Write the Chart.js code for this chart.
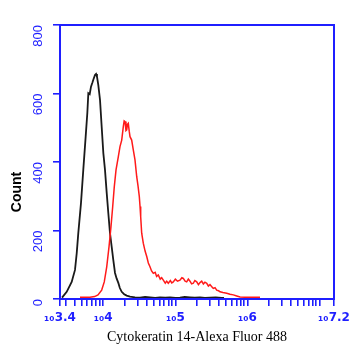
<!DOCTYPE html>
<html>
<head>
<meta charset="utf-8">
<script src="https://cdn.jsdelivr.net/npm/chart.js@4"></script>
<style>
html,body{margin:0;padding:0;background:#fff;}
#wrap{width:349px;height:347px;position:relative;}
</style>
</head>
<body>
<div id="wrap"><canvas id="c"></canvas></div>
<script>
// Fluorescence axis position in decades (log10 of intensity)
const controlDecades = [3.428,3.493,3.562,3.608,3.632,3.654,3.691,3.723,3.756,3.779,3.793,3.812,3.830,3.850,3.862,3.885,3.900,3.913,3.931,3.955,3.978,4.001,4.024,4.048,4.070,4.093,4.117,4.139,4.163,4.185,4.209,4.230,4.256,4.290,4.325,4.371,4.440,4.510,4.580,4.648,4.720,4.787,4.860,4.926,5.000,5.064,5.130,5.203,5.270,5.342,5.410,5.480,5.560,5.640,5.675];
const controlCounts  = [4,21,50,85,134,193,280,377,474,543,601,598,620,632,640,654,657,649,625,581,503,426,377,309,251,193,152,114,76,60,47,32,21,14,10,7,5,4,6,5,3,5,4,5,3,4,6,5,4,5,3,4,5,3,3];

const stainedDecades = [3.677,3.750,3.816,3.880,3.927,3.978,4.014,4.048,4.080,4.107,4.131,4.153,4.177,4.209,4.232,4.256,4.278,4.290,4.302,4.315,4.325,4.336,4.347,4.360,4.371,4.394,4.417,4.440,4.464,4.482,4.500,4.510,4.519,4.533,4.555,4.580,4.603,4.625,4.648,4.670,4.694,4.720,4.740,4.763,4.790,4.810,4.833,4.860,4.880,4.902,4.930,4.950,4.971,5.000,5.030,5.064,5.090,5.110,5.135,5.157,5.180,5.203,5.225,5.249,5.270,5.296,5.320,5.342,5.365,5.388,5.410,5.435,5.458,5.480,5.505,5.526,5.550,5.573,5.600,5.619,5.660,5.712,5.758,5.804,5.851,5.897,5.960,6.035,6.100,6.174];
const stainedCounts  = [5,5,5,7,12,26,50,94,153,211,270,328,377,416,445,464,503,520,518,492,494,510,513,490,474,464,435,406,357,330,299,270,240,192,163,140,124,105,94,82,75,78,66,70,58,62,55,46,52,46,54,47,50,58,52,55,62,60,52,50,58,52,44,46,54,50,42,48,52,44,49,46,38,42,36,31,33,26,24,21,19,17,14,12,9,6,5,5,5,5];

// Axis ticks (intensity values) and labels
const xMinDecade = 3.4, xMaxDecade = 7.2;
const xMajorLabels = {3.4:'\u2081\u20803.4', 4:'\u2081\u20804', 5:'\u2081\u20805', 6:'\u2081\u20806', 7.2:'\u2081\u20807.2'};
const yTicks = [0,200,400,600,800];

const BLUE = '#1f1fff';

const xTickValues = [];
xTickValues.push({value: Math.pow(10, xMinDecade), dec: xMinDecade});
for (let d = 3; d <= 7; d++) {
  for (let k = 1; k <= 9; k++) {
    const v = k * Math.pow(10, d);
    const lv = Math.log10(v);
    if (lv > xMinDecade + 1e-6 && lv < xMaxDecade - 1e-6) xTickValues.push({value: v, dec: (k === 1 ? d : null)});
  }
}
xTickValues.push({value: Math.pow(10, xMaxDecade), dec: xMaxDecade});

const toPts = (decs, counts) => decs.map((d, i) => ({x: Math.pow(10, d), y: counts[i]}));

const framePlugin = {
  id: 'frame',
  afterDraw(chart) {
    const {ctx, chartArea: a} = chart;
    ctx.save();
    ctx.strokeStyle = BLUE;
    ctx.lineWidth = 2;
    ctx.strokeRect(a.left, a.top, a.right - a.left, a.bottom - a.top);
    // y axis title
    ctx.fillStyle = '#000';
    ctx.font = 'bold 14px "Liberation Sans", Arial, sans-serif';
    ctx.textAlign = 'center';
    ctx.textBaseline = 'middle';
    ctx.translate(17, 192);
    ctx.rotate(-Math.PI / 2);
    ctx.fillText('Count', 0, 0);
    ctx.restore();
  }
};

new Chart(document.getElementById('c'), {
  type: 'line',
  data: {
    datasets: [
      {data: toPts(stainedDecades, stainedCounts), borderColor: '#ff1a1a', borderWidth: 1.5, pointRadius: 0, tension: 0, fill: false},
      {data: toPts(controlDecades, controlCounts), borderColor: '#1a1a1a', borderWidth: 1.8, pointRadius: 0, tension: 0, fill: false}
    ]
  },
  options: {
    responsive: true,
    maintainAspectRatio: false,
    animation: false,
    events: [],
    layout: {padding: {top: 25, right: 15, left: 0, bottom: 0}},
    plugins: {legend: {display: false}, tooltip: {enabled: false}},
    scales: {
      x: {
        type: 'logarithmic',
        min: Math.pow(10, xMinDecade),
        max: Math.pow(10, xMaxDecade),
        afterBuildTicks(scale) { scale.ticks = xTickValues.map(t => ({value: t.value})); },
        afterFit(scale) { scale.height = 48; scale.paddingLeft = 0; scale.paddingRight = 0; },
        ticks: {
          autoSkip: false, maxRotation: 0, minRotation: 0, padding: 5,
          color: BLUE,
          font: {family: '"DejaVu Sans", sans-serif', size: 12, weight: 'bold'},
          callback(value, index) {
            const t = xTickValues[index];
            return (t && t.dec !== null && xMajorLabels[t.dec] !== undefined) ? xMajorLabels[t.dec] : '';
          }
        },
        grid: {drawOnChartArea: false, drawTicks: true, tickLength: 7, color: BLUE, lineWidth: 1.6},
        border: {display: false},
        title: {display: true, text: 'Cytokeratin 14-Alexa Fluor 488', color: '#000',
                font: {family: '"Liberation Serif", "Times New Roman", serif', size: 14}, padding: {top: 0, bottom: 1}}
      },
      y: {
        type: 'linear',
        min: 0, max: 800,
        afterBuildTicks(scale) { scale.ticks = yTicks.map(v => ({value: v})); },
        afterFit(scale) { scale.width = 60; scale.paddingTop = 0; scale.paddingBottom = 0; },
        ticks: {
          minRotation: 90, maxRotation: 90, padding: 15,
          color: BLUE,
          font: {family: '"Liberation Sans", Arial, sans-serif', size: 13},
          callback: v => String(v)
        },
        grid: {drawOnChartArea: false, drawTicks: true, tickLength: 7, color: BLUE, lineWidth: 1.6},
        border: {display: false},
        title: {display: false}
      }
    }
  },
  plugins: [framePlugin]
});
</script>
</body>
</html>
